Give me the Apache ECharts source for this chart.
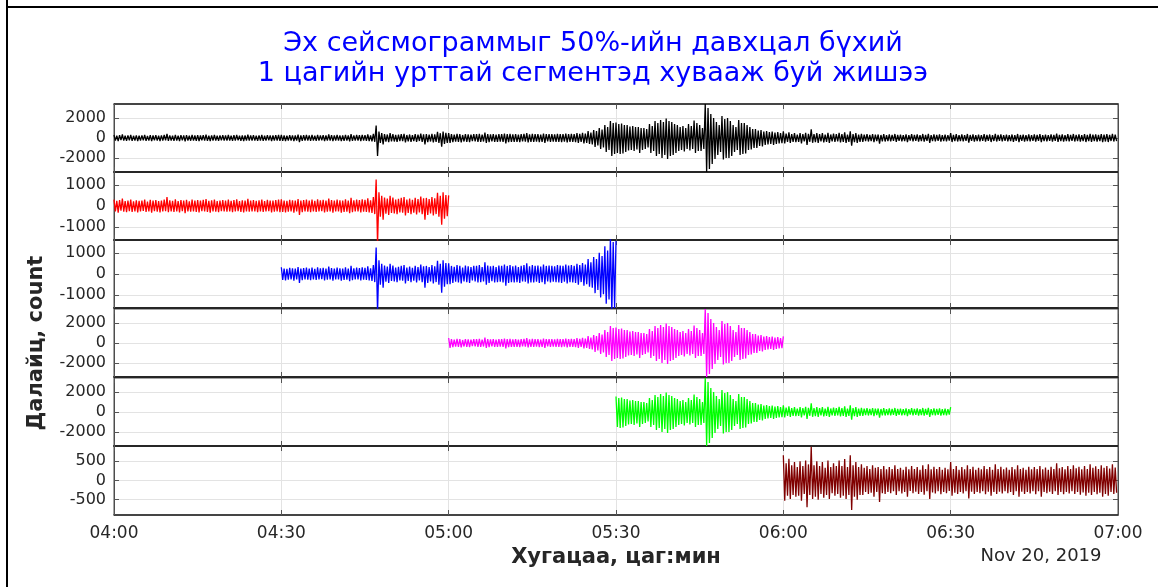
<!DOCTYPE html>
<html><head><meta charset="utf-8">
<script src="https://cdn.jsdelivr.net/npm/echarts@6/dist/echarts.min.js"></script>
<style>html,body{margin:0;padding:0;background:#fff}#c{width:1158px;height:587px}</style>
</head><body><div id="c"></div>
<script>
// ---- data ----
const timeTicks = ['04:00','04:30','05:00','05:30','06:00','06:30','07:00'];
// seismogram peaks/troughs, one value every 15 s from 04:00 (one row = 5 min)
const samples = [
300,-260,240,-310,280,-220,350,-270,230,-290,260,-240,300,-280,220,-250,270,-300,240,-260,
260,-230,300,-280,210,-260,290,-320,250,-240,280,-270,230,-300,260,-250,300,-240,420,-290,
270,-250,240,-280,310,-260,230,-300,280,-240,260,-340,290,-250,220,-270,300,-260,250,-280,
280,-300,250,-240,290,-260,330,-280,240,-310,270,-250,300,-270,230,-290,260,-240,280,-260,
250,-270,300,-250,240,-290,280,-260,310,-240,230,-280,270,-300,250,-260,340,-270,260,-250,
280,-260,240,-290,270,-250,300,-280,230,-260,290,-240,260,-300,250,-270,280,-250,300,-290,
320,-280,260,-300,240,-270,290,-250,270,-310,250,-260,330,-420,260,-290,280,-250,300,-270,
260,-290,300,-250,240,-280,310,-260,270,-240,290,-300,250,-270,350,-260,280,-310,260,-250,
300,-260,270,-310,250,-280,320,-270,260,-340,380,-290,270,-260,300,-250,280,-300,310,-270,
290,-280,360,-300,270,-330,420,-380,1250,-1800,650,-500,480,-650,400,-360,350,-420,480,-330,
400,-350,300,-380,340,-300,380,-320,420,-450,300,-330,350,-380,290,-320,390,-400,330,-300,
450,-380,360,-650,380,-420,330,-350,420,-450,360,-380,620,-500,480,-880,650,-600,520,-480,
500,-480,380,-420,340,-360,420,-400,380,-450,300,-350,400,-380,360,-420,330,-300,380,-350,
380,-400,420,-380,330,-350,550,-500,400,-420,360,-340,380,-400,330,-380,400,-360,380,-400,
450,-550,380,-420,420,-380,360,-400,400,-380,330,-420,380,-350,420,-360,500,-450,360,-400,
420,-400,380,-360,400,-420,350,-380,450,-480,380,-350,400,-400,380,-360,360,-380,420,-400,
400,-420,380,-360,450,-450,400,-380,420,-400,380,-420,480,-500,420,-380,520,-550,450,-480,
700,-600,550,-650,800,-900,700,-750,1000,-1100,850,-950,1300,-1400,1100,-1200,1700,-1800,1500,-1600,
1550,-1500,1400,-1600,1450,-1550,1300,-1400,1300,-1250,1150,-1200,1200,-1300,1100,-1150,1100,-1500,1000,-1200,
1000,-1100,900,-950,1400,-1500,1200,-1300,1700,-1800,1500,-1600,1800,-2000,1600,-1700,1950,-2100,1700,-1800,
1600,-1700,1400,-1500,1300,-1300,1100,-1200,1200,-1350,1000,-1100,1400,-1250,1200,-1100,1750,-1500,1500,-1300,
1300,-1300,1000,-1100,3400,-3400,3000,-3100,2400,-2600,2000,-2100,1600,-1700,1300,-1400,2200,-2150,1900,-2000,
2000,-2000,1700,-1800,1300,-1400,1100,-1200,1800,-1700,1500,-1600,1500,-1550,1300,-1200,1100,-1150,900,-1000,
900,-1000,750,-800,800,-850,650,-700,700,-650,600,-600,650,-700,550,-600,600,-550,500,-520,
660,-530,450,-400,570,-480,400,-380,480,-420,350,-400,500,-530,380,-350,520,-700,420,-380,
880,-480,400,-420,500,-500,380,-350,480,-450,330,-380,520,-480,350,-330,450,-400,380,-350,
520,-450,380,-400,560,-480,350,-380,660,-770,400,-420,480,-500,350,-380,420,-380,330,-300,
380,-350,300,-320,400,-420,330,-300,350,-560,300,-330,380,-350,290,-300,350,-330,300,-280,
400,-380,300,-280,330,-340,280,-300,360,-420,290,-270,380,-330,300,-290,350,-350,280,-300,
400,-370,300,-280,420,-480,290,-310,360,-340,300,-280,350,-360,280,-300,330,-330,290,-270,
480,-400,300,-320,380,-350,280,-300,350,-340,290,-280,400,-470,300,-290,360,-350,280,-300,
330,-330,290,-280,380,-360,300,-290,350,-400,280,-300,420,-350,300,-290,360,-340,290,-280,
340,-330,280,-300,350,-380,290,-280,400,-420,300,-290,330,-350,280,-300,360,-340,290,-280,
350,-360,300,-280,380,-420,290,-300,340,-330,280,-290,360,-350,300,-280,450,-380,320,-300,
350,-360,290,-300,380,-340,300,-280,400,-350,320,-300,360,-370,290,-310,380,-400,300,-320,
420,-380,330,-300,370,-360,300,-320,400,-420,330,-350,380,-400,310,-300,420,-350,340,-320];
const sampleStepMin = 0.25;
// panels: full record, then 1-hour segments with 50% overlap (minutes after 04:00)
const segStart = [0, 0, 30, 60, 90, 120];
const segEnd   = [180, 60, 90, 120, 150, 180];
const yLimit   = [3400, 1600, 1600, 3400, 3400, 900];
const yTicks   = [[-2000,0,2000],[-1000,0,1000],[-1000,0,1000],[-2000,0,2000],[-2000,0,2000],[-500,0,500]];

// ---- styles ----
const colors = ['#000000','#ff0000','#0000ff','#ff00ff','#00ff00','#800000'];
const gridTops = [104,172,240,309,378,446];
const gridH = 68;
const FF = 'DejaVu Sans';

const full = samples.map((v, j) => [j * sampleStepMin, v]);

const grids = [], xAxes = [], yAxes = [], series = [];
for (let k = 0; k < 6; k++) {
  grids.push({left:114, width:1004, top:gridTops[k], height:(k===5?69:gridH), show:true, borderColor:'#4d4d4d', borderWidth:1, containLabel:false});
  xAxes.push({gridIndex:k, type:'value', min:0, max:180, interval:30, position:'bottom',
    axisLine:{show:true, onZero:false, lineStyle:{color:'#262626', width:(k===5?1.5:2)}},
    axisTick:{show:true, inside:true, length:5, lineStyle:{color:'#555'}},
    axisLabel:{show:k===5, formatter:v=>timeTicks[Math.round(v/30)], fontSize:17, fontFamily:FF, color:'#262626', margin:10},
    splitLine:{show:true, lineStyle:{color:'#e3e3e3', width:1}}});
  xAxes.push({gridIndex:k, type:'value', min:0, max:180, interval:30, position:'top',
    axisLine:{show:k===0, onZero:false, lineStyle:{color:'#262626', width:1.5}},
    axisTick:{show:true, inside:true, length:5, lineStyle:{color:'#555'}},
    axisLabel:{show:false}, splitLine:{show:false}});
  yAxes.push({gridIndex:k, type:'value', min:-yLimit[k], max:yLimit[k], position:'left',
    axisLine:{show:true, onZero:false, lineStyle:{color:'#4d4d4d'}},
    axisTick:{show:true, inside:true, length:5, customValues:yTicks[k], lineStyle:{color:'#555'}},
    axisLabel:{show:true, customValues:yTicks[k], formatter:v=>String(v), fontSize:16, fontFamily:FF, color:'#262626', margin:8},
    splitLine:{show:true, lineStyle:{color:'#e3e3e3', width:1}}});
  yAxes.push({gridIndex:k, type:'value', min:-yLimit[k], max:yLimit[k], position:'right',
    axisLine:{show:true, onZero:false, lineStyle:{color:'#4d4d4d'}},
    axisTick:{show:true, inside:true, length:5, customValues:yTicks[k], lineStyle:{color:'#555'}},
    axisLabel:{show:false}, splitLine:{show:false}});
  const pts = full.filter(p => p[0] >= segStart[k] && p[0] <= segEnd[k]);
  series.push({type:'line', xAxisIndex:2*k, yAxisIndex:2*k, data:pts, symbol:'none', showSymbol:false,
    clip:true, lineStyle:{color:colors[k], width:1.3}, itemStyle:{color:colors[k]}, z:3});
}

const chart = echarts.init(document.getElementById('c'), null, {renderer:'canvas'});
chart.setOption({
  animation:false,
  backgroundColor:'#fff',
  title:{text:'Эх сейсмограммыг 50%-ийн давхцал бүхий\n1 цагийн урттай сегментэд хуваaж буй жишээ', left:593, top:29, textAlign:'center', padding:0,
    textStyle:{color:'#0000ff', fontFamily:FF, fontSize:27, fontWeight:'normal', lineHeight:30}},
  grid:grids, xAxis:xAxes, yAxis:yAxes, series:series,
  graphic:[
    {type:'line', shape:{x1:7, y1:0, x2:7, y2:587}, style:{stroke:'#000', lineWidth:2}, silent:true},
    {type:'line', shape:{x1:6, y1:7, x2:1158, y2:7}, style:{stroke:'#000', lineWidth:2}, silent:true},
    {type:'text', style:{text:'Хугацаа, цаг:мин', x:616, y:558, textAlign:'center', textVerticalAlign:'middle', fill:'#262626', font:'bold 21px "DejaVu Sans"'}, silent:true},
    {type:'text', style:{text:'Nov 20, 2019', x:1041, y:556, textAlign:'center', textVerticalAlign:'middle', fill:'#262626', font:'18px "DejaVu Sans"'}, silent:true},
    {type:'text', x:37, y:343, rotation:Math.PI/2, style:{text:'Далайц, count', x:0, y:0, textAlign:'center', textVerticalAlign:'middle', fill:'#262626', font:'bold 21px "DejaVu Sans"'}, silent:true}
  ]
});
</script></body></html>
